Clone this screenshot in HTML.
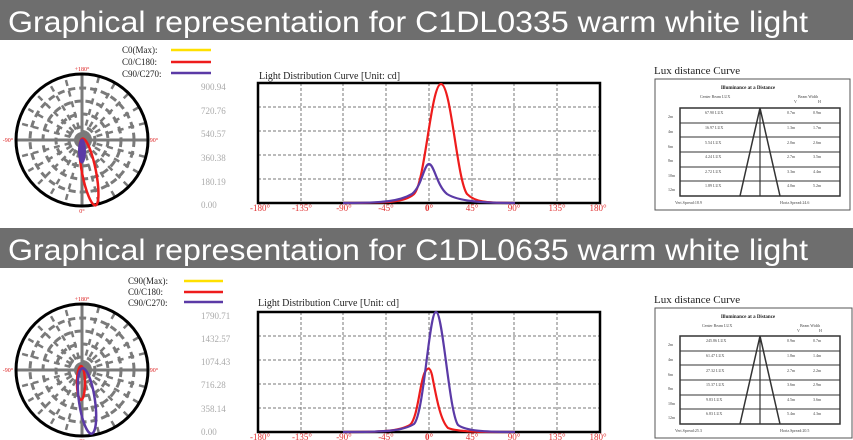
<!DOCTYPE html>
<html><head><meta charset="utf-8"><style>
body{margin:0;background:#fff;width:853px;height:440px;overflow:hidden}
svg{display:block}
text{font-family:"Liberation Serif",serif}
.ban{font-family:"Liberation Sans",sans-serif}
</style></head><body>
<svg width="853" height="440" viewBox="0 0 853 440">
<defs>
<g id="polar">
  <g stroke="#7a7a7a" stroke-width="3" fill="none" stroke-dasharray="7,4">
    <circle r="13"/><circle r="26"/><circle r="39"/><circle r="52"/>
  </g>
  <g stroke="#7a7a7a" stroke-width="2.5" stroke-dasharray="6,5">
    <line x1="0" y1="-65" x2="0" y2="65" transform="rotate(30)"/>
    <line x1="0" y1="-65" x2="0" y2="65" transform="rotate(60)"/>
    <line x1="0" y1="-65" x2="0" y2="65" transform="rotate(120)"/>
    <line x1="0" y1="-65" x2="0" y2="65" transform="rotate(150)"/>
    <line x1="0" y1="-65" x2="0" y2="65" transform="rotate(15)"/>
    <line x1="0" y1="-65" x2="0" y2="65" transform="rotate(45)"/>
    <line x1="0" y1="-65" x2="0" y2="65" transform="rotate(75)"/>
    <line x1="0" y1="-65" x2="0" y2="65" transform="rotate(105)"/>
    <line x1="0" y1="-65" x2="0" y2="65" transform="rotate(135)"/>
    <line x1="0" y1="-65" x2="0" y2="65" transform="rotate(165)"/>
  </g>
  <g stroke="#7a7a7a" stroke-width="3">
    <line x1="-66" y1="0" x2="66" y2="0"/><line x1="0" y1="-66" x2="0" y2="66"/>
  </g>
  <circle r="8" fill="#7a7a7a"/>
  <circle r="66" fill="none" stroke="#000" stroke-width="3"/>
  <text x="0" y="-69" font-size="6" fill="#d22" text-anchor="middle">+180°</text>
  <text x="0" y="73" font-size="6" fill="#d22" text-anchor="middle">0°</text>
  <text x="-74" y="2" font-size="6" fill="#d22" text-anchor="middle">-90°</text>
  <text x="72" y="2" font-size="6" fill="#d22" text-anchor="middle">90°</text>
</g>
<g id="grid">
  <rect x="0" y="0" width="342" height="120" fill="#fff"/>
  <g stroke="#777" stroke-width="1" stroke-dasharray="3,2">
    <line x1="43" y1="0" x2="43" y2="120"/><line x1="85" y1="0" x2="85" y2="120"/>
    <line x1="128" y1="0" x2="128" y2="120"/><line x1="171" y1="0" x2="171" y2="120"/>
    <line x1="214" y1="0" x2="214" y2="120"/><line x1="256" y1="0" x2="256" y2="120"/>
    <line x1="299" y1="0" x2="299" y2="120"/>
    <line x1="0" y1="24" x2="342" y2="24"/><line x1="0" y1="48" x2="342" y2="48"/>
    <line x1="0" y1="72" x2="342" y2="72"/><line x1="0" y1="96" x2="342" y2="96"/>
  </g>
  <rect x="0" y="0" width="342" height="120" fill="none" stroke="#000" stroke-width="2.5"/>
  <g font-size="9" fill="#e03030" text-anchor="middle">
    <text x="2" y="128">-180°</text><text x="44" y="128">-135°</text><text x="86" y="128">-90°</text>
    <text x="128" y="128">-45°</text><text x="171" y="128" font-weight="bold">0°</text><text x="214" y="128">45°</text>
    <text x="256" y="128">90°</text><text x="299" y="128">135°</text><text x="340" y="128">180°</text>
  </g>
</g>
<g id="luxrows" stroke="#333" stroke-width="1" fill="none">
  <rect x="680" y="0" width="160" height="88" stroke-width="1.5"/>
  <line x1="680" y1="15" x2="840" y2="15"/><line x1="680" y1="29" x2="840" y2="29"/>
  <line x1="680" y1="44" x2="840" y2="44"/><line x1="680" y1="59" x2="840" y2="59"/>
  <line x1="680" y1="73" x2="840" y2="73"/>
  <line x1="760" y1="0" x2="760" y2="88" stroke-width="1.2"/>
  <path d="M760,0 L740,88 M760,0 L780,88" stroke-width="1.5"/>
</g>
</defs>

<!-- Section 1 -->
<rect x="0" y="0" width="853" height="40" fill="#6e6e6e"/>
<text class="ban" x="8" y="32" font-size="30" fill="#fff" textLength="800" lengthAdjust="spacingAndGlyphs">Graphical representation for C1DL0335 warm white light</text>

<g transform="translate(82,140)"><use href="#polar"/></g>
<ellipse cx="89" cy="172" rx="7" ry="34" transform="rotate(-11 89 172)" fill="none" stroke="#ee1c1c" stroke-width="2.5"/>
<ellipse cx="82" cy="151" rx="3.5" ry="12" fill="#5b3aa6" stroke="#5b3aa6" stroke-width="1"/>

<g font-size="9" fill="#222"><text x="122" y="53">C0(Max):</text><text x="122" y="65">C0/C180:</text><text x="122" y="77">C90/C270:</text></g>
<line x1="171" y1="50" x2="211" y2="50" stroke="#ffe000" stroke-width="2.5"/>
<line x1="171" y1="62" x2="211" y2="62" stroke="#ee1c1c" stroke-width="2.5"/>
<line x1="171" y1="73" x2="211" y2="73" stroke="#5b3aa6" stroke-width="2.5"/>
<g font-size="9" fill="#aaa"><text x="201" y="90">900.94</text><text x="201" y="114">720.76</text><text x="201" y="137">540.57</text><text x="201" y="161">360.38</text><text x="201" y="185">180.19</text><text x="201" y="208">0.00</text></g>

<text x="259" y="79" font-size="10" fill="#222">Light Distribution Curve [Unit: cd]</text>
<g transform="translate(258,83)"><use href="#grid"/></g>
<path d="M343,203 C390,203 405,202 414,194 C425,184 431,84 441,84 C451,84 457,180 467,194 C475,202 485,203 515,203" fill="none" stroke="#ee1c1c" stroke-width="2.2"/>
<path d="M343,203 C385,203 400,201 412,194 C422,186 424,164 429,164 C434,164 437,186 447,194 C458,201 480,203 515,203" fill="none" stroke="#5b3aa6" stroke-width="2.2"/>

<text x="654" y="74" font-size="11" fill="#222">Lux distance Curve</text>
<rect x="655" y="79" width="195" height="131" fill="none" stroke="#555" stroke-width="1"/>
<text x="748" y="89" font-size="5" font-weight="bold" text-anchor="middle" fill="#222">Illuminance at a Distance</text>
<g font-size="4" fill="#444"><text x="700" y="98">Center Beam LUX</text><text x="798" y="98">Beam Width</text><text x="794" y="103">V</text><text x="818" y="103">H</text></g>
<g transform="translate(0,108)"><use href="#luxrows"/></g>
<g font-size="4" fill="#444">
<text x="668" y="118">2m</text><text x="705" y="114">67.90 LUX</text><text x="787" y="114">0.7m</text><text x="813" y="114">0.9m</text>
<text x="668" y="133">4m</text><text x="705" y="129">16.97 LUX</text><text x="787" y="129">1.3m</text><text x="813" y="129">1.7m</text>
<text x="668" y="148">6m</text><text x="705" y="144">5.54 LUX</text><text x="787" y="144">2.0m</text><text x="813" y="144">2.6m</text>
<text x="668" y="162">8m</text><text x="705" y="158">4.24 LUX</text><text x="787" y="158">2.7m</text><text x="813" y="158">3.5m</text>
<text x="668" y="177">10m</text><text x="705" y="173">2.72 LUX</text><text x="787" y="173">3.3m</text><text x="813" y="173">4.4m</text>
<text x="668" y="191">12m</text><text x="705" y="187">1.89 LUX</text><text x="787" y="187">4.0m</text><text x="813" y="187">5.2m</text>
<text x="675" y="204">Vert.Spread:18.9</text><text x="780" y="204">Horiz.Spread:24.6</text></g>

<!-- Section 2 -->
<rect x="0" y="228" width="853" height="40" fill="#6e6e6e"/>
<text class="ban" x="8" y="260" font-size="30" fill="#fff" textLength="800" lengthAdjust="spacingAndGlyphs">Graphical representation for C1DL0635 warm white light</text>

<g transform="translate(82,370)"><use href="#polar"/></g>
<ellipse cx="81" cy="383" rx="4" ry="17" fill="none" stroke="#ee1c1c" stroke-width="2.5"/>
<ellipse cx="87" cy="401" rx="8" ry="33" transform="rotate(-8 87 401)" fill="none" stroke="#5b3aa6" stroke-width="2.5"/>

<g font-size="9" fill="#222"><text x="128" y="284">C90(Max):</text><text x="128" y="295">C0/C180:</text><text x="128" y="306">C90/C270:</text></g>
<line x1="184" y1="281" x2="223" y2="281" stroke="#ffe000" stroke-width="2.5"/>
<line x1="184" y1="292" x2="223" y2="292" stroke="#ee1c1c" stroke-width="2.5"/>
<line x1="184" y1="302" x2="223" y2="302" stroke="#5b3aa6" stroke-width="2.5"/>
<g font-size="9" fill="#aaa"><text x="201" y="319">1790.71</text><text x="201" y="342">1432.57</text><text x="201" y="365">1074.43</text><text x="201" y="388">716.28</text><text x="201" y="412">358.14</text><text x="201" y="435">0.00</text></g>

<text x="258" y="306" font-size="10" fill="#222">Light Distribution Curve [Unit: cd]</text>
<g transform="translate(258,312)"><use href="#grid"/></g>
<path d="M343,432 C385,432 400,431 410,425 C418,418 420,380 425,372 C428,367 430,367 432,375 C436,395 440,420 448,428 C458,432 480,432 515,432" fill="none" stroke="#ee1c1c" stroke-width="2.2"/>
<path d="M343,432 C385,432 403,431 414,424 C424,414 429,312 436,312 C443,312 449,412 458,425 C466,431 485,432 515,432" fill="none" stroke="#5b3aa6" stroke-width="2.2"/>

<text x="654" y="303" font-size="11" fill="#222">Lux distance Curve</text>
<rect x="655" y="308" width="197" height="130" fill="none" stroke="#555" stroke-width="1"/>
<text x="748" y="318" font-size="5" font-weight="bold" text-anchor="middle" fill="#222">Illuminance at a Distance</text>
<g font-size="4" fill="#444"><text x="702" y="327">Center Beam LUX</text><text x="800" y="327">Beam Width</text><text x="797" y="332">V</text><text x="819" y="332">H</text></g>
<g transform="translate(0,336)"><use href="#luxrows"/></g>
<g font-size="4" fill="#444">
<text x="668" y="346">2m</text><text x="706" y="342">245.86 LUX</text><text x="787" y="342">0.9m</text><text x="813" y="342">0.7m</text>
<text x="668" y="361">4m</text><text x="706" y="357">61.47 LUX</text><text x="787" y="357">1.8m</text><text x="813" y="357">1.4m</text>
<text x="668" y="376">6m</text><text x="706" y="372">27.32 LUX</text><text x="787" y="372">2.7m</text><text x="813" y="372">2.2m</text>
<text x="668" y="390">8m</text><text x="706" y="386">15.37 LUX</text><text x="787" y="386">3.6m</text><text x="813" y="386">2.9m</text>
<text x="668" y="405">10m</text><text x="706" y="401">9.83 LUX</text><text x="787" y="401">4.5m</text><text x="813" y="401">3.6m</text>
<text x="668" y="419">12m</text><text x="706" y="415">6.83 LUX</text><text x="787" y="415">5.4m</text><text x="813" y="415">4.3m</text>
<text x="675" y="432">Vert.Spread:25.3</text><text x="780" y="432">Horiz.Spread:20.5</text></g>
</svg>
</body></html>
